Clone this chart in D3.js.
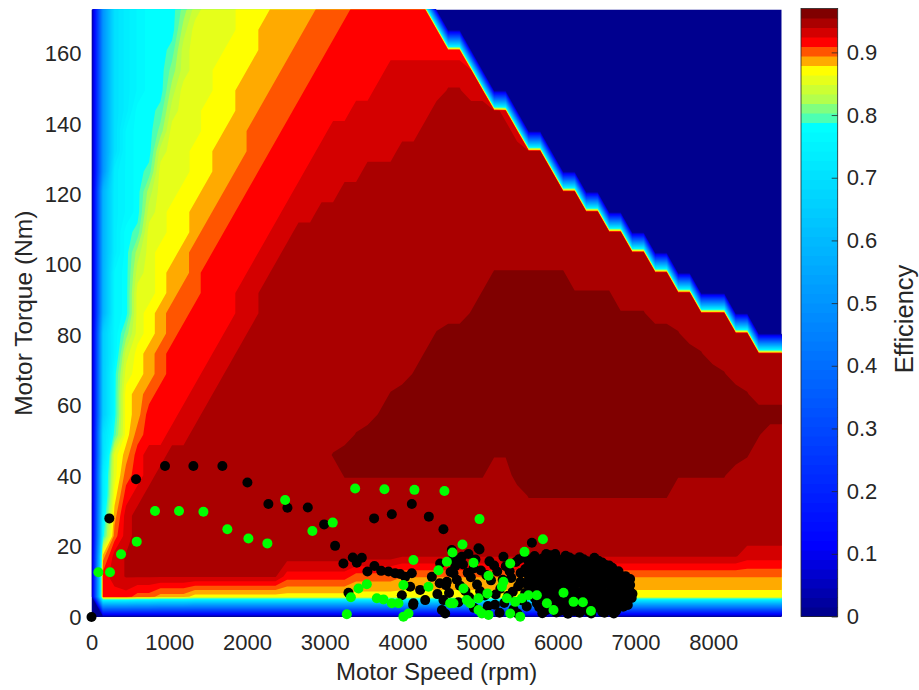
<!DOCTYPE html>
<html>
<head>
<meta charset="utf-8">
<script src="https://cdn.jsdelivr.net/npm/d3@7"></script>
<style>
body { margin: 0; background: #fff; }
text { font-family: "Liberation Sans", Arial, Helvetica, sans-serif; fill: #262626; }
</style>
</head>
<body>
<svg id="chart" width="919" height="690"></svg>
<script>
// efficiency map grid: 61 speed nodes x 31 torque nodes
var speedStep = 148;     // rpm between grid columns
var torqueStep = 5.75;   // Nm between grid rows

// one char per grid node, see effCodeChars / effCodeValues
// rows listed from top (172.5 Nm) down to 0 Nm, spaces only for readability
var effRows = [
  ".14567779b cccdddeeee fffggggggg",
  ".1456777ac cccddeeeef ffgggggggg g",
  ".1456778bc ccdddeeeff fggggggggg ggg",
  ".1456779bc cdddeeefff gggggghhhh hhhh",
  ".145677acc cddeeefffg ggggghhhhh hHHhh",
  ".145778bcc dddeefffgg ggghhhhhhh iiiiiih",
  ".146779ccc ddeefffggg ghhhhhhhhi iiiiiiih",
  ".14677bccd deeeffgggg hhhhhhhiii iiiiiiiiii",
  ".15678cccd deeffggggh hhhhiiiiii iiiiiiiiii i",
  ".2567accdd eeffgggghh hhiiiiiiii iiiiiiiiii iii",
  ".2567bcdde effgggghhh iiiiiiiiii iiiiiiiiii iiiii",
  ".2578ccdde ffgggghhii iiiiiiiiii iiiiiiiiii iiiiiii",
  ".257acddef fgggghhiii iiiiiiiiii iiiiiiiiii iiiiiiiii",
  ".267bcdeef gggghhiiii iiiiiiiiii iiiiiIIIII IIiiiiiiii i",
  ".267ccdeff ggghhiiiii iiiiiiiiii iiiiIjjjjj jjIIIIiiii iii",
  ".267cdeffg ggghhiiiii iiiiiiiiii iiiIjjjjjj jjjjjjIIIi iiiiii",
  ".369cdefgg gghhiiiiii iiiiiiiiii Ijjjjjjjjj jjjjjjjjjj jIiiiiii",
  ".36bdefggg ghhiiiiiii iiiiiiiiiI jjjjjjjjjj jjjjjjjjjj jjjIiiiiii i",
  ".37cdefggg hhiiiiiiii iiiiiiiiIj jjjjjjjjjj jjjjjjjjjj jjjjjIiiii i",
  ".37defgggh hiiiiiiiii iiiiiiIjjj jjjjjjjjjj jjjjjjjjjj jjjjjjjIii i",
  ".37deggghh iiiiiiiiii iiiiiIjjjj jjjjjjjjjj jjjjjjjjjj jjjjjjjjjj j",
  ".48dfgghhi iiiiiiiiii iiiIjjjjjj jjjjjjjjjj jjjjjjjjjj jjjjjjjjIi i",
  ".4ceghhiii iiiiiiiiii iIjjjjjjjj jjjjjIIjjj jjjjjjjjjj jjjjjjjIii i",
  ".5cfghiiii iiiiiiiiii iiIIIIIIII IIIIIiijjj jjjjjjjjjj jIIIIIiiii i",
  ".5dghiiiii iiiiiiiiii iiiiiiiiii iiiiiiiiII IIIIIIIIII Iiiiiiiiii i",
  ".6ehiiiiii iiiiiiiiii iiiiiiiiii iiiiiiiiii iiiiiiiiii iiiiiiiiii i",
  ".7fhiiiiii iiiiiiiiii iiiiiiiiii iiiiiiiiii iiiiiiiiii iiiiiiiiii i",
  ".ehHiiiiii iiiiiiiiii iiiiiiiHHH HHHHHHHHHH HHHHHHHHHH HHHHHHHhhh h",
  ".ghHHHHHHH HHHHHHHggg gggffffFFF FFFFFFFFFF FFFFFFFFFF FFFFFFFFFF F",
  ".gggffeeed dddddddddd dddddddddd dddddddddd dddddddddd dddddddddd d",
  ".......... .......... .......... .......... .......... .......... ."
];
var effCodeChars  = [".", "1", "2", "3", "4", "5", "6", "7", "8", "9", "a", "b", "c", "d", "e", "F", "f", "g", "h", "H", "i", "I", "j"];
var effCodeValues = [0, 0.50, 0.58, 0.65, 0.70, 0.735, 0.76, 0.78, 0.795, 0.81, 0.826, 0.841, 0.856, 0.871, 0.887, 0.895, 0.902, 0.917, 0.932, 0.941, 0.947, 0.956, 0.962];

// operating points [speed rpm, torque Nm]
var blackPts = [
  [0, 0], [229, 28.0], [573, 39.1], [946, 42.9], [1311, 42.9], [1684, 42.9], [2006, 38.2],
  [2276, 32.1], [2521, 31.0], [2783, 31.1], [2993, 26.3], [3134, 20.2], [3241, 15.2],
  [3362, 16.9], [3413, 15.4], [3478, 16.8], [3550, 12.9], [3640, 14.5], [3727, 13.1],
  [3821, 12.9], [3906, 12.4], [3971, 12.2], [4036, 11.4], [4121, 12.4], [3636, 28.0],
  [3864, 29.2], [4121, 32.1], [4340, 28.5], [4528, 24.9], [3306, 6.9], [4992, 19.2],
  [5666, 21.1], [4850, 17.9], [4765, 17.1], [4636, 19.0], [4657, 16.7], [5850, 17.9],
  [5966, 17.9], [3993, 6.2], [4100, 8.6], [4142, 3.9], [4228, 7.7], [4293, 4.8],
  [4379, 11.4], [4486, 15.2], [4528, 4.8], [4572, 10.0], [4657, 12.4], [4743, 16.2],
  [4915, 13.8], [4979, 19.5], [4508, 2.0], [4550, 1.0], [4138, 3.4],
  [4450, 6.5], [4560, 9.0], [4620, 12.8], [4700, 10.6], [4720, 4.2], [4780, 14.9],
  [4810, 7.4], [4880, 11.3], [4920, 2.6], [4960, 9.2], [5010, 13.2], [5060, 6.1],
  [5120, 15.8], [5140, 10.4], [5190, 3.5], [5220, 12.9], [5260, 8.0], [5300, 17.1],
  [5330, 14.4], [5360, 6.0], [5400, 11.1], [5430, 2.2], [5460, 15.6], [5490, 8.7],
  [5520, 12.5], [5540, 4.7], [5570, 17.5], [5480, 1.0], [5250, 1.2], [5050, 1.5],
  [4480, 9.6], [4600, 6.8], [4680, 14.4], [4740, 8.9], [4840, 12.6], [4860, 5.6],
  [4940, 16.3], [5000, 7.3], [5080, 11.9], [5100, 3.1], [5180, 14.6], [5200, 6.4],
  [5290, 10.6], [5310, 4.0], [5380, 13.0], [5420, 7.2], [5500, 16.4], [5520, 10.0],
  [5580, 6.8], [5600, 3.0],
  [5610, 16.3], [5720, 15.1], [5800, 16.6], [5890, 15.4], [5980, 16.8], [6060, 15.6],
  [6150, 16.9], [6240, 15.8], [6330, 16.4], [6420, 15.2], [6520, 16.0], [6610, 14.8],
  [5580, 13.6], [5680, 12.4], [5760, 13.9], [5850, 12.6], [5940, 13.8], [6030, 12.7],
  [6120, 13.9], [6210, 12.8], [6300, 13.7], [6390, 12.6], [6480, 13.5], [6570, 12.4],
  [6660, 13.2], [6740, 12.0], [5630, 10.9], [5720, 9.8], [5810, 11.1], [5900, 10.0],
  [5990, 11.2], [6080, 10.1], [6170, 11.0], [6260, 9.9], [6350, 10.8], [6440, 9.7],
  [6530, 10.6], [6620, 9.5], [6710, 10.4], [6800, 9.3], [6880, 10.2], [5660, 8.2],
  [5750, 7.1], [5840, 8.5], [5930, 7.3], [6020, 8.4], [6110, 7.2], [6200, 8.3],
  [6290, 7.1], [6380, 8.2], [6470, 7.0], [6560, 8.1], [6650, 6.9], [6740, 7.9],
  [6830, 6.8], [6920, 7.7], [5700, 5.5], [5790, 4.4], [5880, 5.7], [5970, 4.6],
  [6060, 5.6], [6150, 4.5], [6240, 5.5], [6330, 4.4], [6420, 5.4], [6510, 4.3],
  [6600, 5.3], [6690, 4.2], [6780, 5.2], [6870, 4.2], [6950, 5.4], [5760, 2.8],
  [5850, 1.9], [5940, 3.0], [6030, 1.8], [6120, 2.9], [6210, 1.7], [6300, 2.8],
  [6390, 1.6], [6480, 2.6], [6570, 1.5], [6660, 2.6], [6750, 1.8], [6840, 2.9],
  [5700, 17.3], [5900, 17.5], [6100, 17.4], [6280, 17.0], [6470, 16.8],
  [5660, 15.8], [5760, 16.0], [5850, 15.9], [5940, 16.1], [6020, 16.2], [6110, 16.1],
  [6200, 16.3], [6290, 16.0], [6380, 15.8], [6470, 15.7], [6570, 15.5], [6660, 14.6],
  [5630, 14.4], [5720, 14.3], [5810, 14.6], [5900, 14.4], [5990, 14.6], [6080, 14.4],
  [6170, 14.6], [6260, 14.4], [6350, 14.6], [6440, 14.3], [6530, 14.4], [6620, 13.9],
  [6700, 14.0], [6780, 13.0],
  [5620, 12.1], [5720, 11.6], [5800, 12.0], [5900, 11.7], [5990, 12.2], [6080, 11.7],
  [6170, 12.2], [6260, 11.6], [6350, 12.1], [6440, 11.5], [6530, 12.0], [6620, 11.4],
  [6710, 11.8], [6800, 11.1], [6870, 11.6], [6930, 10.8],
  [5600, 9.4], [5690, 9.2], [5770, 9.5], [5860, 9.3], [5950, 9.6], [6040, 9.2],
  [6130, 9.5], [6220, 9.2], [6310, 9.5], [6400, 9.2], [6490, 9.4], [6580, 9.1],
  [6670, 9.3], [6760, 9.0], [6850, 8.7], [6930, 9.1],
  [5630, 6.9], [5710, 6.6], [5800, 6.8], [5890, 6.5], [5980, 6.8], [6070, 6.5],
  [6160, 6.7], [6250, 6.4], [6340, 6.7], [6430, 6.3], [6520, 6.6], [6610, 6.2],
  [6700, 6.5], [6790, 6.1], [6880, 6.4], [6960, 6.6],
  [5730, 3.9], [5830, 3.6], [5920, 3.9], [6010, 3.5], [6100, 3.8], [6190, 3.4],
  [6280, 3.8], [6370, 3.4], [6460, 3.7], [6550, 3.3], [6640, 3.6], [6730, 3.3],
  [6820, 3.7], [6900, 3.4],
  [5800, 1.1], [5980, 1.3], [6130, 0.9], [6280, 1.2], [6430, 1.0], [6600, 1.2], [6720, 1.0]
];
var greenPts = [
  [88, 12.7], [238, 12.7], [380, 17.8], [582, 21.4], [817, 30.1], [1126, 30.1],
  [1440, 29.9], [1748, 24.9], [2019, 22.3], [2263, 20.9], [2491, 33.2], [2842, 24.4],
  [3104, 26.8], [3392, 36.5], [3769, 36.3], [4155, 36.1], [4541, 35.8], [4142, 16.2],
  [4773, 20.6], [4644, 18.3], [4572, 15.7], [4464, 13.3], [4915, 15.4], [4992, 27.8],
  [3542, 9.3], [3435, 8.1], [3337, 5.6], [3285, 0.8], [3671, 5.3], [3756, 5.0],
  [3864, 3.9], [3949, 3.9], [4013, 9.1], [4013, 0.1], [4078, 1.0], [4335, 8.6],
  [4614, 3.9], [4786, 8.1], [4872, 3.9], [4979, 2.0], [5808, 22.1], [5571, 18.5],
  [5387, 15.2], [5108, 11.7], [5300, 10.0], [5280, 8.6], [6073, 6.9], [6202, 4.3],
  [6322, 4.2], [6426, 1.7], [4657, 3.9], [4829, 4.8], [4979, 5.3], [5094, 6.7],
  [5023, 1.0], [5108, 0.6], [5344, 5.3], [5451, 4.3], [5537, 5.3], [5622, 6.2],
  [5730, 6.2], [5859, 3.9], [5944, 2.0], [5387, 1.0], [5516, 0.1]
];

var xTicks = [0, 1000, 2000, 3000, 4000, 5000, 6000, 7000, 8000];
var yTicks = [0, 20, 40, 60, 80, 100, 120, 140, 160];
var cbTicks = [0, 0.1, 0.2, 0.3, 0.4, 0.5, 0.6, 0.7, 0.8, 0.9];

// colour map: 64 entries over 0..0.97, smooth blue part + discrete top entries
var cbMax = 0.97, nColors = 64;
var lowStops = [[0, "#00008f"], [7, "#0000ff"], [51, "#00ffff"]];
var highColors = ["#4dffb3", "#80ff80", "#b3ff4d", "#ccff33", "#e6ff1a", "#ffff00",
                  "#ffaa00", "#ff5500", "#ff0000", "#d40000", "#aa0000", "#800000"];

var cmap = [];
for (var e = 0; e < nColors; e++) {
  if (e <= 51) {
    var k = 0;
    while (k < lowStops.length - 2 && e > lowStops[k + 1][0]) k++;
    var a = lowStops[k], b = lowStops[k + 1];
    cmap.push(d3.interpolateRgb(a[1], b[1])((e - a[0]) / (b[0] - a[0])));
  } else {
    cmap.push(highColors[e - 52]);
  }
}

var svg = d3.select("#chart");
var box = {left: 91.5, right: 781.7, top: 9.5, bottom: 617};

var nCols = 61, nRows = effRows.length;
var x = d3.scaleLinear().domain([0, (nCols - 1) * speedStep]).range([box.left, box.right]);
var y = d3.scaleLinear().domain([0, (nRows - 1) * torqueStep]).range([box.bottom, box.top]);

// grid values, row 0 = 0 Nm
var values = [];
for (var j = 0; j < nRows; j++) {
  var row = effRows[nRows - 1 - j].replace(/ /g, "");
  for (var i = 0; i < nCols; i++) {
    var ch = row.charAt(i) || ".";
    values.push(effCodeValues[effCodeChars.indexOf(ch)]);
  }
}

var thresholds = [];
for (var t = 1; t < nColors; t++) thresholds.push(cbMax * t / nColors);

var bands = d3.contours().size([nCols, nRows]).thresholds(thresholds)(values);

var proj = d3.geoTransform({
  point: function(px, py) {
    this.stream.point(x((px - 0.5) * speedStep), y((py - 0.5) * torqueStep));
  }
});
var path = d3.geoPath(proj);

svg.append("clipPath").attr("id", "plotclip")
  .append("rect").attr("x", box.left).attr("y", box.top)
  .attr("width", box.right - box.left).attr("height", box.bottom - box.top);

var plot = svg.append("g").attr("clip-path", "url(#plotclip)");

plot.append("rect")
  .attr("x", box.left).attr("y", box.top)
  .attr("width", box.right - box.left).attr("height", box.bottom - box.top)
  .attr("fill", cmap[0]);

plot.selectAll("path.band")
  .data(bands)
  .join("path")
  .attr("class", "band")
  .attr("d", path)
  .attr("fill", function(d, idx) { return cmap[idx + 1]; });

var dots = svg.append("g");
dots.selectAll("circle.blk")
  .data(blackPts)
  .join("circle")
  .attr("class", "blk")
  .attr("cx", function(d) { return x(d[0]); })
  .attr("cy", function(d) { return y(d[1]); })
  .attr("r", 5)
  .attr("fill", "#000");
dots.selectAll("circle.grn")
  .data(greenPts)
  .join("circle")
  .attr("class", "grn")
  .attr("cx", function(d) { return x(d[0]); })
  .attr("cy", function(d) { return y(d[1]); })
  .attr("r", 5)
  .attr("fill", "#00ff00");

// axes
var xAxis = svg.append("g")
  .attr("transform", "translate(0," + box.bottom + ")")
  .call(d3.axisBottom(x).tickValues(xTicks).tickFormat(d3.format("d")).tickSize(0).tickPadding(17));
var yAxis = svg.append("g")
  .attr("transform", "translate(" + box.left + ",0)")
  .call(d3.axisLeft(y).tickValues(yTicks).tickFormat(d3.format("d")).tickSize(0).tickPadding(10));
[xAxis, yAxis].forEach(function(ax) {
  ax.select(".domain").remove();
  ax.selectAll("text").style("font-size", "22px").attr("fill", "#262626");
});

svg.append("text")
  .attr("x", (box.left + box.right) / 2).attr("y", 680)
  .attr("text-anchor", "middle")
  .style("font-size", "24px")
  .text("Motor Speed (rpm)");
svg.append("text")
  .attr("transform", "translate(32," + (box.top + box.bottom) / 2 + ") rotate(-90)")
  .attr("text-anchor", "middle")
  .style("font-size", "24.5px")
  .text("Motor Torque (Nm)");

// colorbar
var cbLeft = 801, cbRight = 837.7;
var cb = d3.scaleLinear().domain([0, cbMax]).range([616.5, 8.5]);
var cbG = svg.append("g");
cbG.selectAll("rect")
  .data(cmap)
  .join("rect")
  .attr("x", cbLeft)
  .attr("width", cbRight - cbLeft)
  .attr("y", function(d, idx) { return cb(cbMax * (idx + 1) / nColors); })
  .attr("height", function(d, idx) { return cb(cbMax * idx / nColors) - cb(cbMax * (idx + 1) / nColors) + 0.5; })
  .attr("fill", function(d) { return d; });
cbG.append("rect")
  .attr("x", cbLeft).attr("y", cb(cbMax))
  .attr("width", cbRight - cbLeft).attr("height", cb(0) - cb(cbMax))
  .attr("fill", "none").attr("stroke", "#262626").attr("stroke-width", 0.8);

var cbAxis = svg.append("g")
  .attr("transform", "translate(" + cbRight + ",0)")
  .call(d3.axisRight(cb).tickValues(cbTicks).tickSize(-6).tickPadding(9)
        .tickFormat(function(v) { return v === 0 ? "0" : d3.format(".1f")(v); }));
cbAxis.select(".domain").remove();
cbAxis.selectAll("line").attr("stroke", "#262626").attr("stroke-width", 0.8);
cbAxis.selectAll("text").style("font-size", "22px").attr("fill", "#262626");

svg.append("text")
  .attr("transform", "translate(913,319) rotate(-90)")
  .attr("text-anchor", "middle")
  .style("font-size", "25.5px")
  .text("Efficiency");
</script>
</body>
</html>
